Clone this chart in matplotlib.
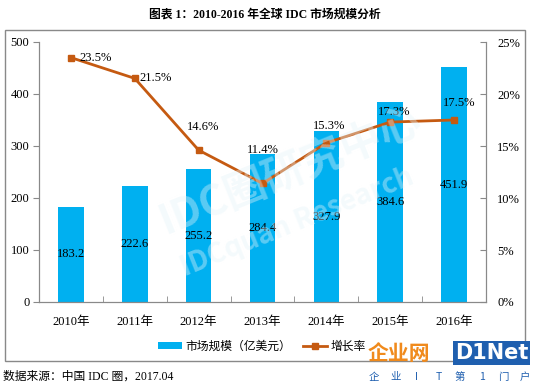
import matplotlib
matplotlib.use("Agg")
import matplotlib.pyplot as plt
from matplotlib.patches import Rectangle, Patch
from matplotlib.lines import Line2D

years = ["2010年", "2011年", "2012年", "2013年", "2014年", "2015年", "2016年"]
market = [183.2, 222.6, 255.2, 284.4, 327.9, 384.6, 451.9]
growth = [23.5, 21.5, 14.6, 11.4, 15.3, 17.3, 17.5]
left_ticks = [0, 100, 200, 300, 400, 500]
right_ticks = [0, 5, 10, 15, 20, 25]
slogan = ["企", "业", "I", "T", "第", "1", "门", "户"]

# label offsets (points) for growth labels
g_off = [(18, 0), (15, 0), (3, 17), (0, 24), (2, 12), (3, 7), (4, 12)]

BLUE = "#00B0F0"
ORANGE = "#C55A11"
GRAY = "#898989"
SERIF = ["Liberation Serif", "Noto Sans CJK SC"]
CJK = ["Noto Sans CJK SC", "DejaVu Sans"]

fig = plt.figure(figsize=(5.33, 3.84), dpi=100)
W, H = 533, 384

def fx(px):
    return px / W

def fy(py):
    return 1 - py / H

# outer frame
fig.patches.append(Rectangle((fx(5), fy(361)), fx(525) - fx(5), fy(30) - fy(361),
                             transform=fig.transFigure, fill=False, edgecolor=GRAY, lw=1.0))

ax = fig.add_axes([fx(39), fy(302), fx(486) - fx(39), fy(42) - fy(302)])
x = list(range(len(years)))
ax.bar(x, market, width=0.4, color=BLUE, zorder=2)
ax.set_xlim(-0.5, len(years) - 0.5)
ax.set_ylim(0, 500)
ax.set_yticks(left_ticks)
ax.set_yticklabels([str(v) for v in left_ticks], family=SERIF, fontsize=9)
ax.set_xticks(x)
ax.set_xticklabels(years, family=SERIF, fontsize=9)
ax.tick_params(axis="x", length=0, pad=10)
ax.set_xticks([i + 0.5 for i in x[:-1]], minor=True)
ax.tick_params(axis="x", which="minor", direction="in", length=4, color=GRAY)
ax.tick_params(axis="y", direction="out", length=4, color=GRAY, pad=3)
for s in ["left", "right", "bottom"]:
    ax.spines[s].set_color(GRAY)
ax.spines["top"].set_visible(False)

for xi, v in zip(x, market):
    ax.text(xi, v / 2, f"{v:.1f}", ha="center", va="center", family=SERIF, fontsize=9, zorder=5)

ax2 = ax.twinx()
ax2.plot(x, growth, color=ORANGE, lw=2, marker="s", markersize=5, zorder=3)
ax2.set_ylim(0, 25)
ax2.set_yticks(right_ticks)
ax2.set_yticklabels([f"{v}%" for v in right_ticks], family=SERIF, fontsize=9)
ax2.tick_params(axis="y", direction="in", length=4, color=GRAY, pad=8)
for s in ["left", "right", "bottom"]:
    ax2.spines[s].set_color(GRAY)
ax2.spines["top"].set_visible(False)
for xi, v, off in zip(x, growth, g_off):
    ax2.annotate(f"{v:.1f}%", (xi, v), xytext=off, textcoords="offset points",
                 ha="center", va="center", family=SERIF, fontsize=9, zorder=6)

# watermark (faint)
fig.text(fx(290), fy(172), "IDC圈研究中心", rotation=22, ha="center", va="center",
         fontsize=30, fontweight="bold", family=CJK, color="#e4f3f9", alpha=0.4, zorder=10)
fig.text(fx(297), fy(222), "IDCquan Research", rotation=22, ha="center", va="center",
         fontsize=20, fontweight="bold", family=CJK, color="#e4f3f9", alpha=0.4, zorder=10)

# title
fig.text(fx(265), fy(15), "图表 1：2010-2016 年全球 IDC 市场规模分析", ha="center", va="center",
         family=SERIF, fontweight="bold", fontsize=8.5)

# legend
handles = [Patch(facecolor=BLUE, edgecolor="none"),
           Line2D([0], [0], color=ORANGE, lw=2, marker="s", markersize=5)]
fig.legend(handles, ["市场规模（亿美元）", "增长率"], loc="center",
           bbox_to_anchor=(fx(262), fy(346)), ncol=2, frameon=False,
           prop={"family": CJK, "size": 8.5}, handlelength=2.0, handleheight=0.6,
           columnspacing=1.0, handletextpad=0.3)

# source
fig.text(fx(3), fy(377), "数据来源：中国 IDC 圈，2017.04", ha="left", va="center",
         family=SERIF, fontsize=8.5)

# logo
fig.text(fx(368), fy(353), "企业网", ha="left", va="center", family=CJK,
         fontsize=15, fontweight="bold", color="#F08A1C", zorder=12)
fig.text(fx(455), fy(353), "D1Net", ha="left", va="center", family=["DejaVu Sans"],
         fontsize=15, fontweight="bold", color="white", zorder=12,
         bbox=dict(boxstyle="square,pad=0.08", facecolor="#1F5FAF", edgecolor="none"))
for i, ch in enumerate(slogan):
    fig.text(fx(374 + i * 21.5), fy(377), ch, ha="center", va="center", family=CJK,
             fontsize=7.5, color="#1F5FAF")

fig.savefig("out.png", dpi=100)
